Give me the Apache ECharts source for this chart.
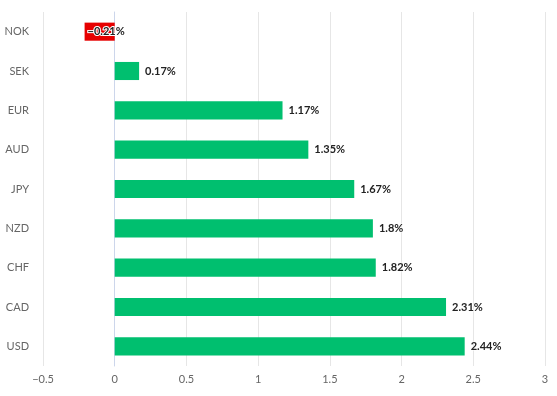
<!DOCTYPE html>
<html>
<head>
<meta charset="utf-8">
<script src="https://cdn.jsdelivr.net/npm/echarts@6/dist/echarts.min.js"></script>
<style>
  html, body { margin: 0; padding: 0; background: #fff; }
  #chart { width: 557px; height: 396px; }
</style>
</head>
<body>
<div id="chart"></div>
<script>
// bottom to top
const currencies = ['USD', 'CAD', 'CHF', 'NZD', 'JPY', 'AUD', 'EUR', 'SEK', 'NOK']
const changes = [2.44, 2.31, 1.82, 1.8, 1.67, 1.35, 1.17, 0.17, -0.21]

const fmt = v => String(v).replace('-', '\u2212')

const chart = echarts.init(document.getElementById('chart'))

chart.setOption({
  animation: false,
  textStyle: { fontFamily: 'Lato, sans-serif' },
  grid: { left: 43, right: 12, top: 12, bottom: 30 },
  xAxis: {
    type: 'value',
    min: -0.5,
    max: 3,
    interval: 0.5,
    axisLine: { show: false },
    axisTick: { show: false },
    axisLabel: { color: '#666', fontSize: 11, formatter: fmt },
    splitLine: { lineStyle: { color: '#e6e6e6' } }
  },
  yAxis: {
    type: 'category',
    data: currencies,
    axisLine: { lineStyle: { color: '#ccd6eb' } },
    axisTick: { length: 5, lineStyle: { color: '#ccd6eb' } },
    axisLabel: { color: '#666', fontSize: 11, margin: 14 }
  },
  series: [
    {
      type: 'bar',
      barWidth: '46%',
      data: changes.map(v => ({
        value: v,
        itemStyle: { color: v < 0 ? '#e60000' : '#00bf6f' },
        label: v < 0 ? { position: 'insideLeft', distance: 3, textBorderWidth: 2 } : {}
      })),
      label: {
        show: true,
        position: 'right',
        distance: 6,
        color: '#222',
        fontWeight: 'bold',
        fontSize: 11,
        textBorderColor: '#fff',
        textBorderWidth: 1,
        formatter: p => fmt(p.value) + '%'
      }
    }
  ]
})
</script>
</body>
</html>
